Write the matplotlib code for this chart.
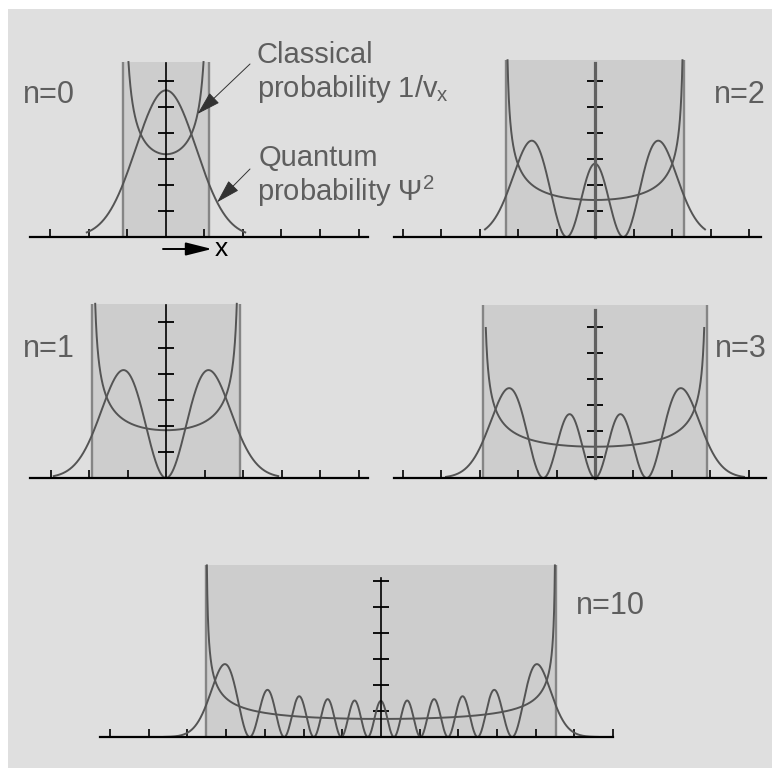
import numpy as np
import matplotlib
matplotlib.use('Agg')
import matplotlib.pyplot as plt
from matplotlib.patches import Rectangle

plt.rcParams['font.family'] = ['Liberation Sans', 'DejaVu Sans']
plt.rcParams['mathtext.fontset'] = 'custom'
plt.rcParams['mathtext.rm'] = 'Liberation Sans'
plt.rcParams['mathtext.it'] = 'Liberation Sans'

W, H = 772, 768  # pixel size of the picture

# quantum number of each panel and where it sits (pixels)
n_levels = [0, 1, 2, 3, 10]
center_px = [166, 166, 595, 595, 381]
base_px = [237, 478, 237, 478, 737]
left_px = [30, 30, 394, 394, 100]
right_px = [368, 368, 761, 766, 613]
px_per_unit = [42.6, 42.5, 40.0, 42.2, 38.2]   # x scale of each panel
y_px_per_unit = 260                            # y scale (probability density)

# what is drawn in each panel
quantum_halfwidth = [1.86, 2.64, 2.75, 3.53, 5.68]
box_top = [0.673, 0.67, 0.68, 0.667, 0.66]
classical_cap = [0.673, 0.67, 0.68, 0.577, 0.66]
yaxis_top = [0.67, 0.666, 0.668, 0.645, 0.61]
ytick_start = [0.1, 0.1, 0.1, 0.08, 0.1]
n_yticks = 6
xtick_range = [(-3, 5), (-3, 5), (-5, 4), (-5, 4), (-7, 6)]
xtick_px = [38.5, 38.5, 38.5, 38.4, 38.7]
yaxis_color = ['black', 'black', '#606060', '#606060', 'black']
yaxis_lw = [1.2, 1.2, 2.3, 2.3, 1.2]

labels = ['n=0', 'n=1', 'n=2', 'n=3', 'n=10']
label_pos = [(23, 103, 'left'), (23, 357, 'left'), (766, 103, 'right'),
             (767, 357, 'right'), (576, 614, 'left')]

bg = '#dfdfdf'
shade = '#cdcdcd'
curve_col = '#545454'
edge_col = '#858585'
text_col = '#5e5e5e'


def psi_sq(n, x):
    # normalised oscillator eigenfunction squared (Hermite recurrence)
    p0 = np.pi ** -0.25 * np.exp(-x ** 2 / 2)
    if n == 0:
        return p0 ** 2
    p1 = np.sqrt(2) * x * p0
    for k in range(1, n):
        p0, p1 = p1, np.sqrt(2 / (k + 1)) * x * p1 - np.sqrt(k / (k + 1)) * p0
    return p1 ** 2


def classical(A, x):
    return 1 / (np.pi * np.sqrt(A ** 2 - x ** 2))


fig = plt.figure(figsize=(W / 100, H / 100), dpi=100, facecolor='white')
fig.patches.append(Rectangle((8 / W, 0), 1 - 8 / W, 1 - 9 / H, transform=fig.transFigure,
                             facecolor=bg, edgecolor='none', zorder=-5))

ymax = 0.72
axes = []
for i, n in enumerate(n_levels):
    c, b, l, r, s = center_px[i], base_px[i], left_px[i], right_px[i], px_per_unit[i]
    ax = fig.add_axes([l / W, 1 - b / H, (r - l) / W, ymax * y_px_per_unit / H])
    ax.set_zorder(1)
    ax.set_xlim((l - c) / s, (r - c) / s)
    ax.set_ylim(0, ymax)
    ax.patch.set_visible(False)
    for sp in ['top', 'right']:
        ax.spines[sp].set_visible(False)
    ax.spines['bottom'].set_linewidth(1.6)
    ax.spines['left'].set_position(('data', 0))
    ax.spines['left'].set_bounds(0, yaxis_top[i])
    ax.spines['left'].set_color(yaxis_color[i])
    ax.spines['left'].set_linewidth(yaxis_lw[i])
    for sp in ax.spines.values():
        sp.set_zorder(4)

    k0, k1 = xtick_range[i]
    ks = np.array([k for k in range(k0, k1 + 1) if k != 0])
    ax.set_xticks(ks * xtick_px[i] / s)
    ax.set_yticks(ytick_start[i] + 0.1 * np.arange(n_yticks))
    ax.tick_params(axis='x', direction='in', length=6, width=1.2, colors='black',
                   labelbottom=False)
    ax.tick_params(axis='y', direction='inout', length=11, width=1.3, colors='black',
                   labelleft=False)
    ax.set_axisbelow(False)

    A = np.sqrt(2 * n + 1)
    ax.add_patch(Rectangle((-A, 0), 2 * A, box_top[i], facecolor=shade,
                           edgecolor='none', zorder=1))
    ax.vlines([-A, A], 0, box_top[i], color=edge_col, lw=1.7, zorder=2)

    xm = np.sqrt(A ** 2 - (1 / (np.pi * classical_cap[i])) ** 2)
    xc = xm * np.sin(np.linspace(-np.pi / 2, np.pi / 2, 800))
    ax.plot(xc, classical(A, xc), color=curve_col, lw=1.4, zorder=3)

    D = quantum_halfwidth[i]
    xq = np.linspace(-D, D, 1500)
    ax.plot(xq, psi_sq(n, xq), color=curve_col, lw=1.4, zorder=3)

    tx, ty, ha = label_pos[i]
    fig.text(tx / W, 1 - ty / H, labels[i], fontsize=22, color=text_col,
             ha=ha, va='baseline')
    axes.append(ax)

ax0 = axes[0]

# annotations for the n=0 panel
fig.text(256 / W, 1 - 63 / H, 'Classical', fontsize=21, color=text_col, va='baseline')
fig.text(257 / W, 1 - 97 / H, r'probability 1/v$_\mathregular{x}$', fontsize=21,
         color=text_col, va='baseline')
fig.text(259 / W, 1 - 166 / H, 'Quantum', fontsize=21, color=text_col, va='baseline')
fig.text(257 / W, 1 - 201 / H, r'probability Ψ$^\mathregular{2}$', fontsize=21,
         color=text_col, va='baseline')

x_tip1 = 0.74
x_tip2 = 1.2
arrow_kw = dict(arrowstyle='-|>,head_length=0.75,head_width=0.22', color='#333333',
                lw=0.7, mutation_scale=20, shrinkA=0, shrinkB=0)
ax0.annotate('', xy=(x_tip1, classical(1.0, x_tip1)), xycoords='data',
             xytext=(250 / W, 1 - 64 / H), textcoords='figure fraction',
             arrowprops=arrow_kw, annotation_clip=False)
ax0.annotate('', xy=(x_tip2, psi_sq(0, x_tip2)), xycoords='data',
             xytext=(250 / W, 1 - 169 / H), textcoords='figure fraction',
             arrowprops=arrow_kw, annotation_clip=False)

# "-> x" under the first panel
ax0.annotate('', xy=(212 / W, 1 - 249 / H), xycoords='figure fraction',
             xytext=(163 / W, 1 - 249 / H), textcoords='figure fraction',
             arrowprops=dict(arrowstyle='-|>,head_length=0.8,head_width=0.2',
                             color='black', lw=1.4, mutation_scale=20,
                             shrinkA=0, shrinkB=0),
             annotation_clip=False)
fig.text(215 / W, 1 - 256 / H, 'x', fontsize=19, color='black', va='baseline')

fig.savefig('out.png', dpi=100, facecolor='white')
